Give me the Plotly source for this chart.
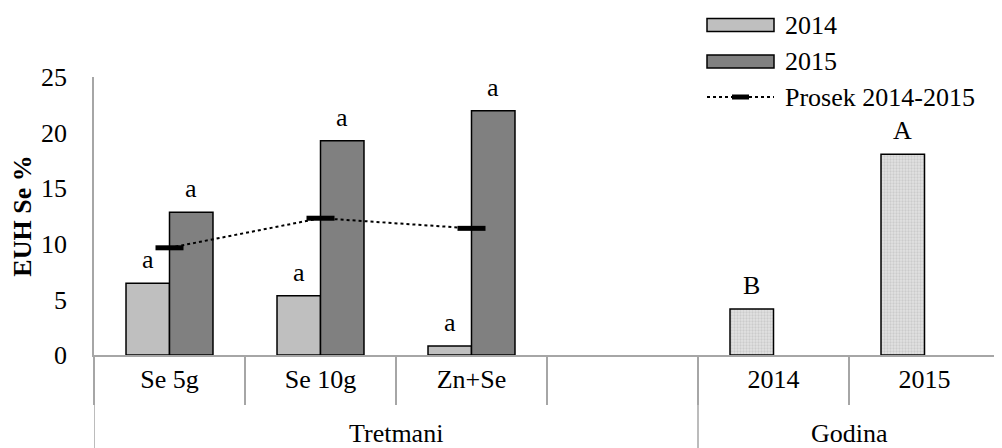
import plotly.graph_objects as go

# ---- data ----
group_names = ["Tretmani", "Godina"]
treatments = ["Se 5g", "Se 10g", "Zn+Se"]
empty_treatment = " "
years = ["2014", "2015"]

vals_2014 = [6.45, 5.33, 0.81]
vals_2015 = [12.83, 19.27, 21.97]
mean_vals = [9.64, 12.30, 11.39]
vals_year = [4.14, 18.05]

letters_2014 = ["a", "a", "a"]
letters_2015 = ["a", "a", "a"]
letters_year = ["B", "A"]

y_ticks = [0, 5, 10, 15, 20, 25]

series_names = ["2014", "2015", "Prosek 2014-2015"]

# ---- layout geometry ----
# the page body adds an 8 px offset; the figure is sized so that the
# plot area lands at x 94..1000, y 77..355 of the 1002x448 window
BODY = 8
VW, VH = 1002, 448
W, H = VW - BODY, VH - BODY
PL, PR, PT, PB = 94, 1000, 77, 355          # plot area in window pixels
ML, MT, MB = PL - BODY, PT - BODY, VH - PB
MR = W - (PR - BODY)
FONT = "Liberation Serif"
AXIS_GRAY = "#a6a6a6"
BARGAP = 0.424

all_cats = treatments + [empty_treatment] + years
n_treat = len(treatments)
year_start = n_treat + 1

fig = go.Figure()

fig.add_trace(go.Bar(
    name=series_names[0],
    x=treatments + [empty_treatment],
    y=vals_2014 + [None],
    offsetgroup="1",
    marker=dict(color="#bfbfbf", line=dict(color="black", width=1.5)),
))
fig.add_trace(go.Bar(
    name=series_names[1],
    x=treatments,
    y=vals_2015,
    offsetgroup="2",
    marker=dict(color="#808080", line=dict(color="black", width=1.5)),
))
fig.add_trace(go.Bar(
    name="Godina",
    x=years,
    y=vals_year,
    offsetgroup="1",
    marker=dict(color="#dedede", line=dict(color="black", width=1.5),
                pattern=dict(shape=".", fgcolor="#b3b3b3", bgcolor="#e2e2e2",
                             size=3, solidity=0.45)),
))
fig.add_trace(go.Scatter(
    name=series_names[2],
    x=treatments,
    y=mean_vals,
    mode="lines+markers",
    line=dict(color="black", width=2, dash="dot"),
    marker=dict(symbol="line-ew", size=20, color="black",
                line=dict(color="black", width=5)),
))

# ---- significance letters above bars (category index +/- half bar) ----
half = (1 - BARGAP) / 4
annotations = []
letter_font = dict(family=FONT, size=26, color="black")
for i, (v, t) in enumerate(zip(vals_2014, letters_2014)):
    annotations.append(dict(x=i - half, y=v, xref="x", yref="y", text=t,
                            showarrow=False, yanchor="bottom", yshift=7,
                            font=letter_font))
for i, (v, t) in enumerate(zip(vals_2015, letters_2015)):
    annotations.append(dict(x=i + half, y=v, xref="x", yref="y", text=t,
                            showarrow=False, yanchor="bottom", yshift=7,
                            font=letter_font))
for j, (v, t) in enumerate(zip(vals_year, letters_year)):
    annotations.append(dict(x=year_start + j - half, y=v, xref="x", yref="y",
                            text=t, showarrow=False, yanchor="bottom", yshift=7,
                            font=letter_font))

# ---- helpers: window pixels -> paper coords ----
pw = PR - PL
ph = PB - PT


def px_x(px):
    return (px - PL) / pw


def px_y(py):
    return (PB - py) / ph


shapes = []

# ---- group labels and dividers of the two-level category axis ----
group_bounds = [-0.5, n_treat + 0.5, len(all_cats) - 0.5]
for xb in group_bounds:
    shapes.append(dict(type="line", xref="x", yref="paper",
                       x0=xb, x1=xb, y0=0, y1=px_y(VH + 2),
                       line=dict(color=AXIS_GRAY, width=1.5)))
group_centers = [(group_bounds[0] + group_bounds[1]) / 2,
                 (group_bounds[1] + group_bounds[2]) / 2]
for name, xc in zip(group_names, group_centers):
    annotations.append(dict(x=xc, xref="x", y=px_y(433), yref="paper",
                            text=name, showarrow=False, yanchor="middle",
                            font=dict(family=FONT, size=26, color="black")))
# axis line continues to the window edge
shapes.append(dict(type="line", xref="paper", yref="paper",
                   x0=1, x1=px_x(VW + 2), y0=0, y1=0,
                   line=dict(color=AXIS_GRAY, width=1.5)))

# ---- manual legend (decoration) ----
leg_x0, leg_x1, leg_text_x = 707, 774, 783
rows = [25, 61.5, 97]
fills = ["#bfbfbf", "#808080"]
for i in range(2):
    shapes.append(dict(type="rect", xref="paper", yref="paper",
                       x0=px_x(leg_x0), x1=px_x(leg_x1),
                       y0=px_y(rows[i] - 6.5), y1=px_y(rows[i] + 6.5),
                       fillcolor=fills[i], line=dict(color="black", width=1.5)))
shapes.append(dict(type="line", xref="paper", yref="paper",
                   x0=px_x(leg_x0), x1=px_x(leg_x1),
                   y0=px_y(rows[2]), y1=px_y(rows[2]),
                   line=dict(color="black", width=2, dash="dot")))
shapes.append(dict(type="line", xref="paper", yref="paper",
                   x0=px_x(732), x1=px_x(749),
                   y0=px_y(rows[2]), y1=px_y(rows[2]),
                   line=dict(color="black", width=5)))
for i, name in enumerate(series_names):
    annotations.append(dict(xref="paper", yref="paper",
                            x=px_x(leg_text_x), y=px_y(rows[i]),
                            xanchor="left", yanchor="middle",
                            text=name, showarrow=False,
                            font=dict(family=FONT, size=26, color="black")))

fig.update_layout(
    width=W, height=H,
    margin=dict(l=ML, r=MR, t=MT, b=MB, autoexpand=False),
    paper_bgcolor="white", plot_bgcolor="white",
    font=dict(family=FONT, size=26, color="black"),
    showlegend=False,
    barmode="group", bargap=BARGAP, bargroupgap=0,
    shapes=shapes, annotations=annotations,
    xaxis=dict(
        type="category", categoryorder="array", categoryarray=all_cats,
        range=[-0.5, len(all_cats) - 0.5], automargin=False,
        showline=True, linecolor=AXIS_GRAY, linewidth=1.5,
        ticks="outside", tickson="boundaries", ticklen=48,
        tickcolor=AXIS_GRAY, tickwidth=1.5,
        ticklabelstandoff=0,
        tickfont=dict(family=FONT, size=26, color="black"),
        showgrid=False, zeroline=False,
    ),
    yaxis=dict(
        range=[0, 25], tickvals=y_ticks, automargin=False,
        showline=True, linecolor=AXIS_GRAY, linewidth=1.5,
        ticks="", showgrid=False, zeroline=False,
        ticklabelstandoff=20,
        tickfont=dict(family=FONT, size=26, color="black"),
        title=dict(text="EUH Se %", standoff=8,
                   font=dict(family=FONT, size=26, color="black", weight="bold")),
    ),
)

fig.write_html("out.html")
